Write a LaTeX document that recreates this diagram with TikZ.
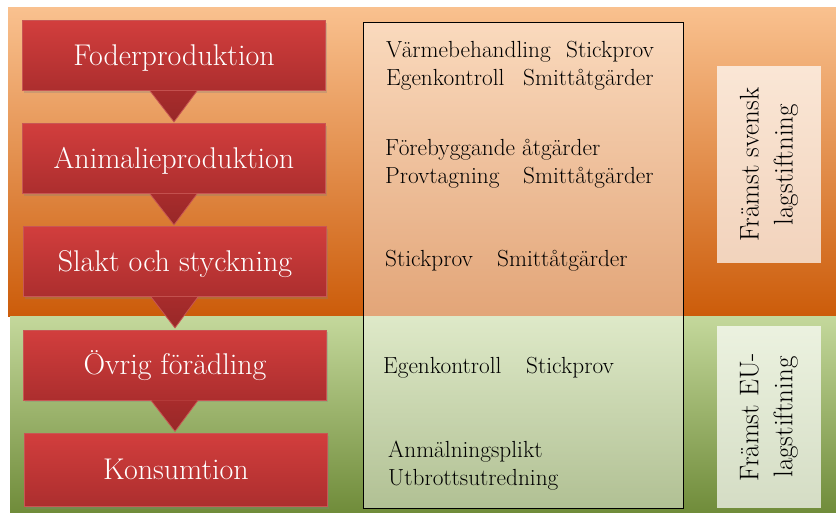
\documentclass[tikz,border=0pt]{standalone}
\usetikzlibrary{shadows,calc}
\definecolor{or1}{RGB}{249,193,143}
\definecolor{or2}{RGB}{242,158,80}
\definecolor{or3}{RGB}{204,92,10}
\definecolor{gr1}{RGB}{196,216,156}
\definecolor{gr2}{RGB}{112,140,58}
\definecolor{redtop}{RGB}{210,62,61}
\definecolor{redbot}{RGB}{172,46,46}
\definecolor{redline}{RGB}{200,86,84}
\definecolor{tri}{RGB}{168,44,44}
\begin{document}
\begin{tikzpicture}[x=1pt,y=-1pt,
  stage/.style={minimum width=303pt, minimum height=70pt, inner sep=0pt,
    text height=21pt, text depth=2pt,
    top color=redtop, bottom color=redbot, draw=redline, line width=0.8pt,
    text=white, font=\fontsize{30}{32}\selectfont,
    drop shadow={opacity=0.3, shadow xshift=1.5pt, shadow yshift=-2pt}},
  tip/.style={top color=tri, bottom color=tri!90!black, draw=redline, line width=0.8pt},
  meas/.style={anchor=base west, inner sep=0pt, font=\fontsize{23.3}{26}\selectfont},
  lawbox/.style={fill=white, fill opacity=0.7, minimum width=104pt, inner sep=0pt},
  lawtext/.style={rotate=90, align=center, font=\fontsize{27}{34}\selectfont}]
\useasboundingbox (0,0) rectangle (836,512);
\fill[white] (0,0) rectangle (836,512);
% background bands
\shade[top color=or1, middle color=or2, bottom color=or3] (8,7) rectangle (836,316);
\shade[top color=gr1, bottom color=gr2] (10,316) rectangle (836,512);
% middle box
\node[draw=black, line width=0.9pt, fill=white, fill opacity=0.45, minimum width=320pt, minimum height=486pt, inner sep=0pt] (mid) at (523,265) {};
% stages
\node[stage] (s1) at (174,55.5) {Foderproduktion};
\node[stage] (s2) at (174,158.5) {Animalieproduktion};
\node[stage] (s3) at (175,261.5) {Slakt och styckning};
\node[stage] (s4) at (175,365) {Övrig förädling};
\node[stage, minimum height=73pt] (s5) at (176,470) {Konsumtion};
% arrow tips
\foreach \s in {s1,s2,s3,s4}{
  \path[tip] ($(\s.south)+(-24,0)$) -- ($(\s.south)+(0,31)$) -- ($(\s.south)+(23,0)$);
}
% measures
\node[meas] (m1a) at (386,57) {Värmebehandling};
\node[meas] (m1b) at (566,57) {Stickprov};
\node[meas] (m2a) at (386,85) {Egenkontroll};
\node[meas] (m2b) at (523,85) {Smittåtgärder};
\node[meas] (m3) at (385,155) {Förebyggande åtgärder};
\node[meas] (m4a) at (385,183) {Provtagning};
\node[meas] (m4b) at (523,183) {Smittåtgärder};
\node[meas] (m5a) at (385,266) {Stickprov};
\node[meas] (m5b) at (497,266) {Smittåtgärder};
\node[meas] (m6a) at (383,373) {Egenkontroll};
\node[meas] (m6b) at (526,373) {Stickprov};
\node[meas] (m7) at (388,457) {Anmälningsplikt};
\node[meas] (m8) at (388,485) {Utbrottsutredning};
% law boxes
\node[lawbox, minimum height=197pt] (l1) at (769,164.5) {};
\node[lawtext] (t1) at (l1.center) {Främst svensk\\lagstiftning};
\node[lawbox, minimum height=182pt] (l2) at (769,417) {};
\node[lawtext] (t2) at (l2.center) {Främst EU-\\lagstiftning};
\end{tikzpicture}
\end{document}
